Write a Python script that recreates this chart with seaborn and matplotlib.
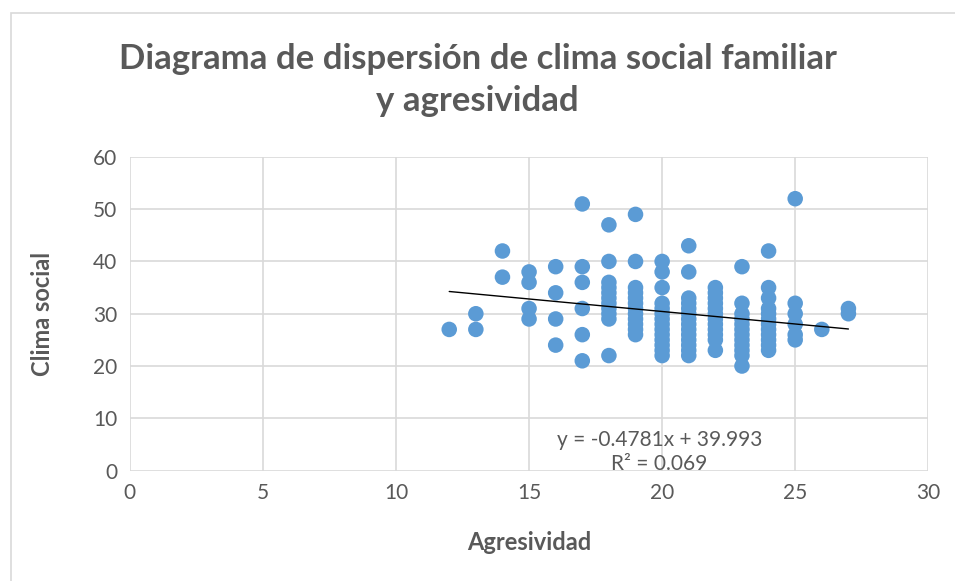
import numpy as np
import pandas as pd
import matplotlib
matplotlib.use('Agg')
import matplotlib.pyplot as plt
import seaborn as sns

# ── Data ─────────────────────────────────────────────────────────────────────
agresividad_levels = [12, 13, 14, 15, 16, 17, 18, 19, 20, 21, 22, 23, 24, 25, 26, 27]
clima_by_level = [
    [27],
    [30, 27],
    [42, 37],
    [38, 36, 31, 29],
    [39, 34, 29, 24],
    [51, 39, 36, 31, 26, 21],
    [47, 40, 36, 35, 34, 33, 32, 31, 30, 29, 22],
    [49, 40, 35, 34, 33, 32, 31, 30, 29, 28, 27, 26],
    [40, 38, 35, 32, 31, 30, 29, 28, 27, 26, 25, 24, 23, 22],
    [43, 38, 33, 32, 31, 30, 29, 28, 27, 26, 25, 24, 23, 22],
    [35, 34, 33, 32, 31, 30, 29, 28, 27, 26, 25, 23],
    [39, 32, 30, 29, 28, 27, 26, 25, 24, 23, 22, 20],
    [42, 35, 33, 31, 30, 29, 28, 27, 26, 25, 24, 23],
    [52, 32, 30, 28, 26, 25],
    [27],
    [31, 30],
]
TREND_SLOPE = -0.4781
TREND_INTERCEPT = 39.993
TREND_LABEL = "y = -0.4781x + 39.993\nR² = 0.069"

TITLE = "Diagrama de dispersión de clima social familiar\ny agresividad"
X_LABEL = "Agresividad"
Y_LABEL = "Clima social"

df = pd.DataFrame(
    [(x, y) for x, ys in zip(agresividad_levels, clima_by_level) for y in ys],
    columns=["Agresividad", "Clima social"],
)

# ── Style ────────────────────────────────────────────────────────────────────
sns.set_style("white")
plt.rcParams['font.family'] = ['Lato', 'DejaVu Sans']
TEXT = '#595959'
GRID = '#D9D9D9'
BLUE = '#5B9BD5'

fig = plt.figure(figsize=(9.55, 5.81), dpi=100)
ax = fig.add_axes([0.136, 0.190, 0.836, 0.540])

# chart frame
fig.patches.append(plt.Rectangle((0.011, -0.02), 1.05, 0.998, transform=fig.transFigure,
                                 fill=False, edgecolor=GRID, linewidth=1.2))

sns.scatterplot(data=df, x="Agresividad", y="Clima social", ax=ax,
                color=BLUE, s=125, edgecolor='none', zorder=3)

xs = np.array([min(agresividad_levels), max(agresividad_levels)])
ax.plot(xs, TREND_SLOPE * xs + TREND_INTERCEPT, color='black', linewidth=1, zorder=4)

ax.text(19.9, 3.6, TREND_LABEL, ha='center', va='center', fontsize=15,
        color=TEXT, linespacing=1.25, zorder=5)

ax.set_xlim(0, 30)
ax.set_ylim(0, 60)
ax.set_xticks(range(0, 31, 5))
ax.set_yticks(range(0, 61, 10))
ax.grid(True, color=GRID, linewidth=1.2)
ax.set_axisbelow(True)
for s in ax.spines.values():
    s.set_visible(False)
ax.tick_params(length=0, labelsize=15, labelcolor=TEXT, pad=9)

ax.set_xlabel(X_LABEL, fontsize=17, fontweight='bold', color=TEXT, labelpad=20)
ax.set_ylabel(Y_LABEL, fontsize=17, fontweight='bold', color=TEXT, labelpad=28)

fig.text(0.5, 0.862, TITLE, ha='center', va='center', fontsize=25,
         fontweight='bold', color=TEXT, linespacing=1.4)

plt.savefig('out.png', dpi=100)
